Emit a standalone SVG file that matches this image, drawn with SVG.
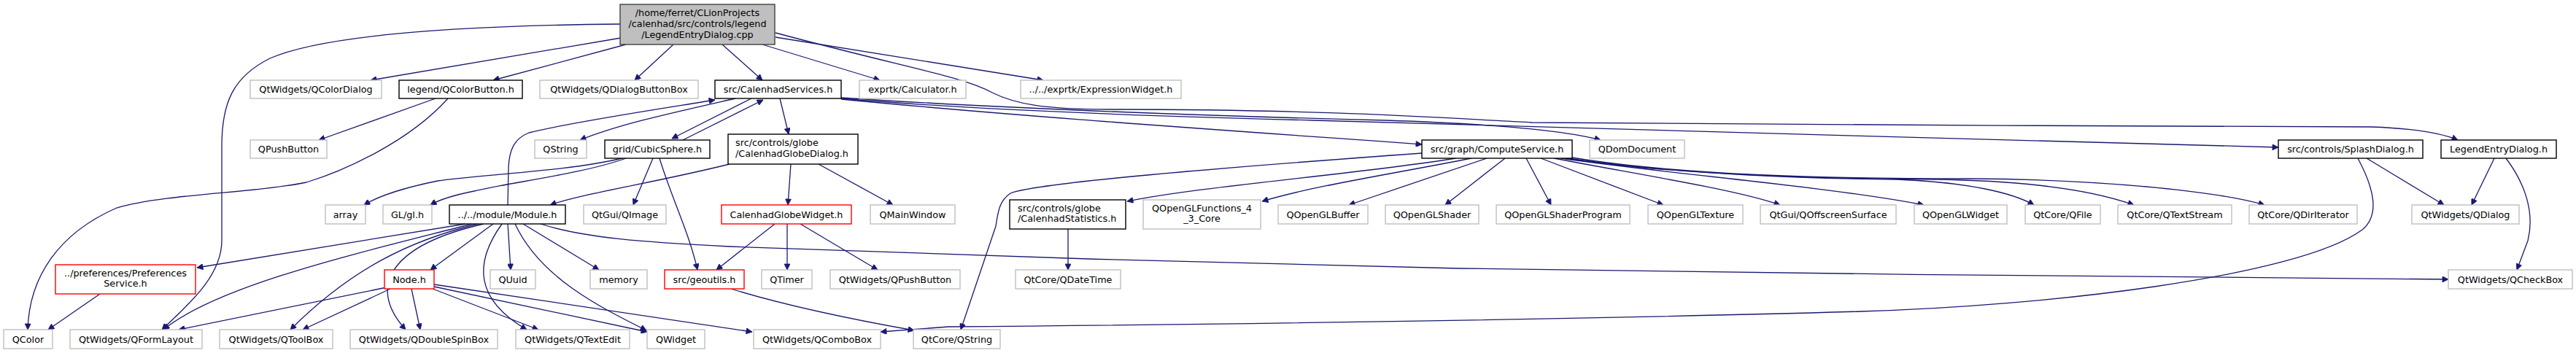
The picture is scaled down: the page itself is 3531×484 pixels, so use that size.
<svg xmlns="http://www.w3.org/2000/svg" width="3531" height="484" viewBox="0 0 3531 484">
<style>
rect{fill:#fff;stroke-width:1.4}
.g{stroke:#bfbfbf}
.b{stroke:#000}
.r{stroke:#ff0000}
.root{fill:#bfbfbf;stroke:#404040}
text{font-family:"DejaVu Sans","Liberation Sans",sans-serif;font-size:12.8px;fill:#000}
.c{text-anchor:middle}
#edges path{fill:none;stroke:#191970;stroke-width:1.3;marker-end:url(#ah)}
</style>
<defs>
<marker id="ah" viewBox="0 0 10 10" refX="10" refY="5" markerUnits="userSpaceOnUse" markerWidth="11" markerHeight="8" orient="auto">
<path d="M0,0 L10,5 L0,10 z" fill="#191970" stroke="#191970"/>
</marker>
</defs>
<rect x="0" y="0" width="3531" height="484" style="fill:#fff;stroke:none"/>
<g id="edges">
<path d="M851,52 L508,110"/>
<path d="M858,61 L676,110"/>
<path d="M923,61 L870,110"/>
<path d="M990,61 L1045,110"/>
<path d="M1045,61 L1206,110"/>
<path d="M1063,51 L1430,110"/>
<path d="M850,33 C650,35 450,45 370,80 C320,105 304,140 304,200 L304,330 C304,380 255,420 222,452"/>
<path d="M1063,45 C1250,95 1320,105 1360,127 C1390,142 1430,150 1520,150 C1800,150 1950,160 2100,168 C2400,172 2900,172 3250,174 C3310,176 3345,182 3369,192"/>
<path d="M597,135 L437,192"/>
<path d="M614,135 C560,195 470,235 420,250 C350,265 230,265 160,285 C80,320 40,380 38,452"/>
<path d="M1008,135 C920,155 850,170 795,192"/>
<path d="M1030,135 L921,190"/>
<path d="M936,192 L1046,137"/>
<path d="M1069,135 L1081,184"/>
<path d="M1153,136 C1400,160 1700,180 1949,198"/>
<path d="M1153,134 C1400,150 1700,160 1900,165 C2050,170 2150,180 2194,192"/>
<path d="M1153,135 C1350,152 1600,160 1800,165 C2200,175 2700,192 3123,202"/>
<path d="M696,281 L697,230 C698,205 705,190 725,182 C780,168 900,150 980,137"/>
<path d="M852,217 C780,235 650,240 600,248 C560,256 520,268 499,281"/>
<path d="M858,217 C800,238 700,250 650,262 C620,268 600,275 590,281"/>
<path d="M895,217 L868,281"/>
<path d="M904,217 C920,270 945,320 956,370"/>
<path d="M1000,225 C900,250 800,265 754,281"/>
<path d="M1084,225 L1080,281"/>
<path d="M1122,225 L1224,281"/>
<path d="M1062,307 L982,370"/>
<path d="M1079,307 L1079,370"/>
<path d="M1097,307 L1203,370"/>
<path d="M1002,396 C1080,420 1180,440 1253,453"/>
<path d="M1949,210 C1700,228 1420,250 1385,265 C1370,275 1368,290 1365,310 L1317,452"/>
<path d="M1996,217 C1850,240 1650,255 1545,276"/>
<path d="M2017,217 C1900,240 1800,255 1730,276"/>
<path d="M2038,217 L1849,281"/>
<path d="M2063,217 L1981,281"/>
<path d="M2092,217 L2126,281"/>
<path d="M2112,217 L2280,281"/>
<path d="M2130,217 C2250,240 2380,260 2440,281"/>
<path d="M2140,217 C2300,240 2500,255 2637,281"/>
<path d="M2145,217 C2300,240 2500,245 2600,246 C2700,250 2760,265 2788,281"/>
<path d="M2150,217 C2300,240 2500,245 2650,246 C2800,248 2880,265 2925,281"/>
<path d="M2155,216 C2300,240 2500,245 2700,245 C2900,246 3050,265 3104,281"/>
<path d="M1464,314 L1464,370"/>
<path d="M3244,217 L3350,281"/>
<path d="M3232,217 C3255,260 3262,295 3238,315 C3150,380 2800,420 2550,427 C2200,437 1700,445 1300,448 L1207,455"/>
<path d="M3419,217 L3388,281"/>
<path d="M3435,217 C3460,250 3475,290 3465,330 L3450,370"/>
<path d="M741,307 C800,326 880,332 1000,338 C1300,350 1700,362 2000,368 C2400,376 3000,379 3356,383"/>
<path d="M638,307 L270,367"/>
<path d="M647,307 C500,345 300,390 224,452"/>
<path d="M655,307 C560,330 480,370 398,452"/>
<path d="M663,307 C540,335 500,390 556,452"/>
<path d="M676,307 L590,370"/>
<path d="M688,307 C650,360 650,410 722,452"/>
<path d="M696,307 L700,370"/>
<path d="M706,307 C740,380 820,420 886,453"/>
<path d="M717,307 L821,370"/>
<path d="M530,394 L245,452"/>
<path d="M535,396 L415,452"/>
<path d="M564,396 L576,452"/>
<path d="M593,396 L738,452"/>
<path d="M595,393 L887,455"/>
<path d="M595,390 L1031,455"/>
<path d="M137,403 L66,452"/>
</g>
<g id="n_root"><rect class="root" x="850" y="6" width="212" height="55"/><text class="c" x="956" y="21.5">/home/ferret/CLionProjects</text><text class="c" x="956" y="36.5">/calenhad/src/controls/legend</text><text class="c" x="956" y="51.5">/LegendEntryDialog.cpp</text></g>
<g id="n_qcolordialog"><rect class="g" x="343" y="110" width="180" height="25"/><text class="c" x="433" y="127">QtWidgets/QColorDialog</text></g>
<g id="n_qcolorbutton"><rect class="b" x="547" y="110" width="169" height="25"/><text class="c" x="631.5" y="127">legend/QColorButton.h</text></g>
<g id="n_qdialogbuttonbox"><rect class="g" x="740" y="110" width="217" height="25"/><text class="c" x="848.5" y="127">QtWidgets/QDialogButtonBox</text></g>
<g id="n_services"><rect class="b" x="980" y="110" width="173" height="25"/><text class="c" x="1066.5" y="127">src/CalenhadServices.h</text></g>
<g id="n_calculator"><rect class="g" x="1178" y="110" width="146" height="25"/><text class="c" x="1251" y="127">exprtk/Calculator.h</text></g>
<g id="n_exprwidget"><rect class="g" x="1399" y="110" width="220" height="25"/><text class="c" x="1509" y="127">../../exprtk/ExpressionWidget.h</text></g>
<g id="n_qpushbutton"><rect class="g" x="343" y="192" width="105" height="25"/><text class="c" x="395.5" y="209">QPushButton</text></g>
<g id="n_qstring"><rect class="g" x="733" y="192" width="71" height="25"/><text class="c" x="768.5" y="209">QString</text></g>
<g id="n_cubicsphere"><rect class="b" x="829" y="192" width="144" height="25"/><text class="c" x="901" y="209">grid/CubicSphere.h</text></g>
<g id="n_globedialog"><rect class="b" x="998" y="184" width="178" height="41"/><text x="1008" y="200">src/controls/globe</text><text x="1008" y="214.5">/CalenhadGlobeDialog.h</text></g>
<g id="n_computeservice"><rect class="b" x="1949" y="192" width="206" height="25"/><text class="c" x="2052" y="209">src/graph/ComputeService.h</text></g>
<g id="n_qdomdocument"><rect class="g" x="2179" y="192" width="130" height="25"/><text class="c" x="2244" y="209">QDomDocument</text></g>
<g id="n_splashdialog"><rect class="b" x="3123" y="192" width="198" height="25"/><text class="c" x="3222" y="209">src/controls/SplashDialog.h</text></g>
<g id="n_legendentrydialog"><rect class="b" x="3346" y="192" width="158" height="25"/><text class="c" x="3425" y="209">LegendEntryDialog.h</text></g>
<g id="n_array"><rect class="g" x="446" y="281" width="55" height="26"/><text class="c" x="473.5" y="298.5">array</text></g>
<g id="n_gl"><rect class="g" x="525" y="281" width="67" height="26"/><text class="c" x="558.5" y="298.5">GL/gl.h</text></g>
<g id="n_module"><rect class="b" x="616" y="281" width="159" height="26"/><text class="c" x="695.5" y="298.5">../../module/Module.h</text></g>
<g id="n_qimage"><rect class="g" x="800" y="281" width="113" height="26"/><text class="c" x="856.5" y="298.5">QtGui/QImage</text></g>
<g id="n_globewidget"><rect class="r" x="989" y="281" width="178" height="26"/><text class="c" x="1078" y="298.5">CalenhadGlobeWidget.h</text></g>
<g id="n_qmainwindow"><rect class="g" x="1193" y="281" width="116" height="26"/><text class="c" x="1251" y="298.5">QMainWindow</text></g>
<g id="n_statistics"><rect class="b" x="1384" y="274" width="159" height="40"/><text x="1395" y="289.5">src/controls/globe</text><text x="1395" y="304">/CalenhadStatistics.h</text></g>
<g id="n_glfunctions"><rect class="g" x="1567" y="274" width="161" height="40"/><text class="c" x="1647.5" y="289.5">QOpenGLFunctions_4</text><text class="c" x="1647.5" y="304">_3_Core</text></g>
<g id="n_glbuffer"><rect class="g" x="1752" y="281" width="123" height="26"/><text class="c" x="1813.5" y="298.5">QOpenGLBuffer</text></g>
<g id="n_glshader"><rect class="g" x="1899" y="281" width="128" height="26"/><text class="c" x="1963" y="298.5">QOpenGLShader</text></g>
<g id="n_glprogram"><rect class="g" x="2051" y="281" width="183" height="26"/><text class="c" x="2142.5" y="298.5">QOpenGLShaderProgram</text></g>
<g id="n_gltexture"><rect class="g" x="2259" y="281" width="130" height="26"/><text class="c" x="2324" y="298.5">QOpenGLTexture</text></g>
<g id="n_offscreen"><rect class="g" x="2413" y="281" width="186" height="26"/><text class="c" x="2506" y="298.5">QtGui/QOffscreenSurface</text></g>
<g id="n_glwidget"><rect class="g" x="2624" y="281" width="127" height="26"/><text class="c" x="2687.5" y="298.5">QOpenGLWidget</text></g>
<g id="n_qfile"><rect class="g" x="2776" y="281" width="103" height="26"/><text class="c" x="2827.5" y="298.5">QtCore/QFile</text></g>
<g id="n_qtextstream"><rect class="g" x="2903" y="281" width="156" height="26"/><text class="c" x="2981" y="298.5">QtCore/QTextStream</text></g>
<g id="n_qdiriterator"><rect class="g" x="3083" y="281" width="148" height="26"/><text class="c" x="3157" y="298.5">QtCore/QDirIterator</text></g>
<g id="n_qdialog"><rect class="g" x="3306" y="281" width="147" height="26"/><text class="c" x="3379.5" y="298.5">QtWidgets/QDialog</text></g>
<g id="n_preferences"><rect class="r" x="76" y="363" width="192" height="40"/><text class="c" x="172" y="378.5">../preferences/Preferences</text><text class="c" x="172" y="393">Service.h</text></g>
<g id="n_node"><rect class="r" x="527" y="370" width="68" height="26"/><text class="c" x="561" y="387.5">Node.h</text></g>
<g id="n_quuid"><rect class="g" x="672" y="370" width="62" height="26"/><text class="c" x="703" y="387.5">QUuid</text></g>
<g id="n_memory"><rect class="g" x="809" y="370" width="78" height="26"/><text class="c" x="848" y="387.5">memory</text></g>
<g id="n_geoutils"><rect class="r" x="911" y="370" width="109" height="26"/><text class="c" x="965.5" y="387.5">src/geoutils.h</text></g>
<g id="n_qtimer"><rect class="g" x="1044" y="370" width="69" height="26"/><text class="c" x="1078.5" y="387.5">QTimer</text></g>
<g id="n_qwpushbutton"><rect class="g" x="1138" y="370" width="178" height="26"/><text class="c" x="1227" y="387.5">QtWidgets/QPushButton</text></g>
<g id="n_qdatetime"><rect class="g" x="1392" y="370" width="144" height="26"/><text class="c" x="1464" y="387.5">QtCore/QDateTime</text></g>
<g id="n_qcheckbox"><rect class="g" x="3356" y="370" width="170" height="26"/><text class="c" x="3441" y="387.5">QtWidgets/QCheckBox</text></g>
<g id="n_qcolor"><rect class="g" x="5" y="452" width="67" height="26"/><text class="c" x="38.5" y="469.5">QColor</text></g>
<g id="n_qformlayout"><rect class="g" x="96" y="452" width="181" height="26"/><text class="c" x="186.5" y="469.5">QtWidgets/QFormLayout</text></g>
<g id="n_qtoolbox"><rect class="g" x="301" y="452" width="155" height="26"/><text class="c" x="378.5" y="469.5">QtWidgets/QToolBox</text></g>
<g id="n_qdoublespinbox"><rect class="g" x="480" y="452" width="202" height="26"/><text class="c" x="581" y="469.5">QtWidgets/QDoubleSpinBox</text></g>
<g id="n_qtextedit"><rect class="g" x="707" y="452" width="156" height="26"/><text class="c" x="785" y="469.5">QtWidgets/QTextEdit</text></g>
<g id="n_qwidget"><rect class="g" x="887" y="452" width="79" height="26"/><text class="c" x="926.5" y="469.5">QWidget</text></g>
<g id="n_qcombobox"><rect class="g" x="1033" y="452" width="174" height="26"/><text class="c" x="1120" y="469.5">QtWidgets/QComboBox</text></g>
<g id="n_qtcoreqstring"><rect class="g" x="1252" y="452" width="119" height="26"/><text class="c" x="1311.5" y="469.5">QtCore/QString</text></g>
</svg>
